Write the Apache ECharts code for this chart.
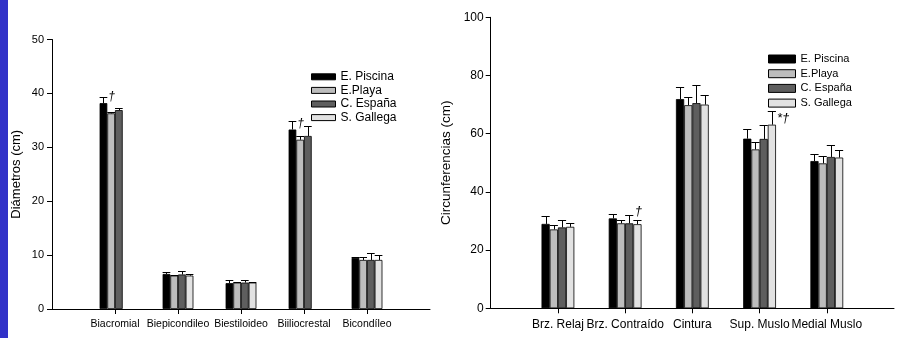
<!DOCTYPE html>
<html>
<head>
<meta charset="utf-8">
<script src="https://cdn.jsdelivr.net/npm/echarts@6.0.0/dist/echarts.min.js"></script>
<style>
html,body{margin:0;padding:0;background:#fff;}
#c{width:897px;height:338px;}
</style>
</head>
<body>
<div id="c"></div>
<script>
// ---------- DATA ----------
const seriesNames = ['E. Piscina', 'E.Playa', 'C. España', 'S. Gallega'];

const leftCategories = ['Biacromial', 'Biepicondileo', 'Biestiloideo', 'Biiliocrestal', 'Bicondíleo'];
const leftTicks = [0, 10, 20, 30, 40, 50];
const leftPiscina    = [38.2, 6.5, 4.8, 33.3, 9.5];
const leftPiscinaErr = [1.2, 0.35, 0.55, 1.6, 0.2];
const leftPlaya      = [36.3, 6.2, 4.9, 31.4, 9.1];
const leftPlayaErr   = [0.2, 0.15, 0.2, 0.7, 0.6];
const leftEspana     = [36.9, 6.4, 4.9, 32.1, 9.1];
const leftEspanaErr  = [0.4, 0.7, 0.45, 1.9, 1.2];
const leftGallega    = [null, 6.2, 4.9, null, 9.1];
const leftGallegaErr = [null, 0.25, 0.15, null, 1.0];
const leftPiscinaMarks = ['†', '', '', '†', ''];

const rightCategories = ['Brz. Relaj', 'Brz. Contraído', 'Cintura', 'Sup. Muslo', 'Medial Muslo'];
const rightTicks = [0, 20, 40, 60, 80, 100];
const rightPiscina    = [29.0, 30.9, 71.9, 58.3, 50.6];
const rightPiscinaErr = [2.6, 1.5, 4.0, 3.4, 2.4];
const rightPlaya      = [27.1, 29.2, 69.8, 54.6, 49.8];
const rightPlayaErr   = [1.4, 1.1, 2.7, 2.5, 2.5];
const rightEspana     = [27.8, 29.2, 70.5, 58.2, 52.0];
const rightEspanaErr  = [2.5, 2.9, 6.1, 4.7, 4.0];
const rightGallega    = [28.0, 28.9, 70.0, 63.1, 51.8];
const rightGallegaErr = [1.4, 1.3, 3.2, 4.6, 2.6];
const rightGallegaMarks = ['', '†', '', '*†', ''];

// ---------- STYLE ----------
const FONT = 'Liberation Sans, Arial, sans-serif';
const barColors = ['#000000', '#bdbdbd', '#5e5e5e', '#e2e2e2'];
const markPlacement = { 'Brz. Contraído': 'top' };

const chart = echarts.init(document.getElementById('c'), null, { renderer: 'canvas' });

function padCats(cats) { return [''].concat(cats, ['']); }

function barSeries(name, idx, values, axisIdx, barW) {
  return {
    name: name, type: 'bar', xAxisIndex: axisIdx, yAxisIndex: axisIdx,
    barWidth: barW, barGap: '0%',
    itemStyle: { color: barColors[idx], borderColor: '#000', borderWidth: 0.8 },
    emphasis: { disabled: true },
    data: values.map((v, i) => [i + 1, v == null ? '-' : v]),
    z: 2, animation: false
  };
}

function errSeries(idx, values, errs, marks, cats, axisIdx, barW, fontSize) {
  const data = [];
  values.forEach((v, i) => { if (v != null) data.push([i + 1, v, errs[i], i]); });
  return {
    name: 'err' + axisIdx + '_' + idx, type: 'custom', xAxisIndex: axisIdx, yAxisIndex: axisIdx,
    z: 3, animation: false, silent: true,
    encode: { x: 0, y: 1 },
    renderItem: function (params, api) {
      const cat = api.value(0), v = api.value(1), e = api.value(2), ci = api.value(3);
      const base = api.coord([cat, v]);
      const top = api.coord([cat, v + e]);
      const xc = base[0] + (idx - 1.5) * barW;
      const x = Math.round(xc) + 0.5;
      const ty = Math.round(top[1]) + 0.5;
      const children = [
        { type: 'line', shape: { x1: x, y1: base[1], x2: x, y2: ty }, style: { stroke: '#000', lineWidth: 1 } },
        { type: 'line', shape: { x1: xc - barW / 2, y1: ty, x2: xc + barW / 2, y2: ty }, style: { stroke: '#000', lineWidth: 1 } }
      ];
      const m = marks ? marks[ci] : '';
      if (m) {
        const place = markPlacement[cats[ci]] || 'right';
        if (place === 'top') {
          children.push({ type: 'text', style: { text: m, x: xc + 1, y: ty - 9, font: 'italic ' + fontSize + 'px ' + FONT, fill: '#000', align: 'center', verticalAlign: 'middle' } });
        } else {
          children.push({ type: 'text', style: { text: m, x: xc + barW / 2 + 1, y: base[1] - 6, font: 'italic ' + fontSize + 'px ' + FONT, fill: '#000', align: 'left', verticalAlign: 'middle' } });
        }
      }
      return { type: 'group', children: children };
    },
    data: data
  };
}

function xAxisCfg(cats, gridIdx, fs, margin) {
  return {
    type: 'category', gridIndex: gridIdx, data: padCats(cats), boundaryGap: false,
    axisLine: { show: true, lineStyle: { color: '#000', width: 1 } },
    axisTick: { show: true, inside: false, length: 5, lineStyle: { color: '#000' },
      interval: function (i) { return i > 0 && i < cats.length + 1; } },
    axisLabel: { interval: 0, color: '#000', fontSize: fs, fontFamily: FONT, margin: margin },
    splitLine: { show: false }
  };
}

function yAxisCfg(ticks, gridIdx, name, fs, nameFs, nameGap, margin) {
  return {
    type: 'value', gridIndex: gridIdx, min: ticks[0], max: ticks[ticks.length - 1],
    interval: ticks[1] - ticks[0],
    name: name, nameLocation: 'middle', nameGap: nameGap, nameRotate: 90,
    nameTextStyle: { color: '#000', fontSize: nameFs, fontFamily: FONT },
    axisLine: { show: true, lineStyle: { color: '#000', width: 1 } },
    axisTick: { show: true, inside: false, length: 5, lineStyle: { color: '#000' } },
    axisLabel: { color: '#000', fontSize: fs, fontFamily: FONT, margin: margin },
    splitLine: { show: false }
  };
}

const leftVals = [leftPiscina, leftPlaya, leftEspana, leftGallega];
const leftErrs = [leftPiscinaErr, leftPlayaErr, leftEspanaErr, leftGallegaErr];
const leftMarks = [leftPiscinaMarks, null, null, null];
const rightVals = [rightPiscina, rightPlaya, rightEspana, rightGallega];
const rightErrs = [rightPiscinaErr, rightPlayaErr, rightEspanaErr, rightGallegaErr];
const rightMarks = [null, null, null, rightGallegaMarks];

const LBW = 7.7, RBW = 8.2;
const series = [];
seriesNames.forEach((n, i) => series.push(barSeries(n, i, leftVals[i], 0, LBW)));
seriesNames.forEach((n, i) => series.push(barSeries(n, i, rightVals[i], 1, RBW)));
seriesNames.forEach((n, i) => series.push(errSeries(i, leftVals[i], leftErrs[i], leftMarks[i], leftCategories, 0, LBW, 12)));
seriesNames.forEach((n, i) => series.push(errSeries(i, rightVals[i], rightErrs[i], rightMarks[i], rightCategories, 1, RBW, 13)));

chart.setOption({
  animation: false,
  backgroundColor: '#fff',
  textStyle: { fontFamily: FONT },
  graphic: [{ type: 'rect', left: 0, top: 0, shape: { width: 8, height: 338 }, style: { fill: '#3232c8' }, silent: true }],
  grid: [
    { left: 52, top: 39.5, width: 378, height: 269.5 },
    { left: 490.7, top: 17.3, width: 405, height: 291 }
  ],
  xAxis: [xAxisCfg(leftCategories, 0, 10.5, 10), xAxisCfg(rightCategories, 1, 12, 10)],
  yAxis: [
    yAxisCfg(leftTicks, 0, 'Diámetros (cm)', 11, 13, 29, 8),
    yAxisCfg(rightTicks, 1, 'Circunferencias (cm)', 12, 13.5, 37, 7)
  ],
  legend: [
    { data: seriesNames, orient: 'vertical', left: 311, top: 70.8, padding: 0,
      itemWidth: 24, itemHeight: 6, itemGap: 1.6, icon: 'rect', selectedMode: false,
      itemStyle: { borderColor: '#000', borderWidth: 1 },
      textStyle: { color: '#000', fontSize: 12, fontFamily: FONT, lineHeight: 12 } },
    { data: seriesNames, orient: 'vertical', left: 768, top: 53, padding: 0,
      itemWidth: 27, itemHeight: 8, itemGap: 2.7, icon: 'rect', selectedMode: false,
      itemStyle: { borderColor: '#000', borderWidth: 1 },
      textStyle: { color: '#000', fontSize: 11, fontFamily: FONT, lineHeight: 12 } }
  ],
  series: series
});
</script>
</body>
</html>
